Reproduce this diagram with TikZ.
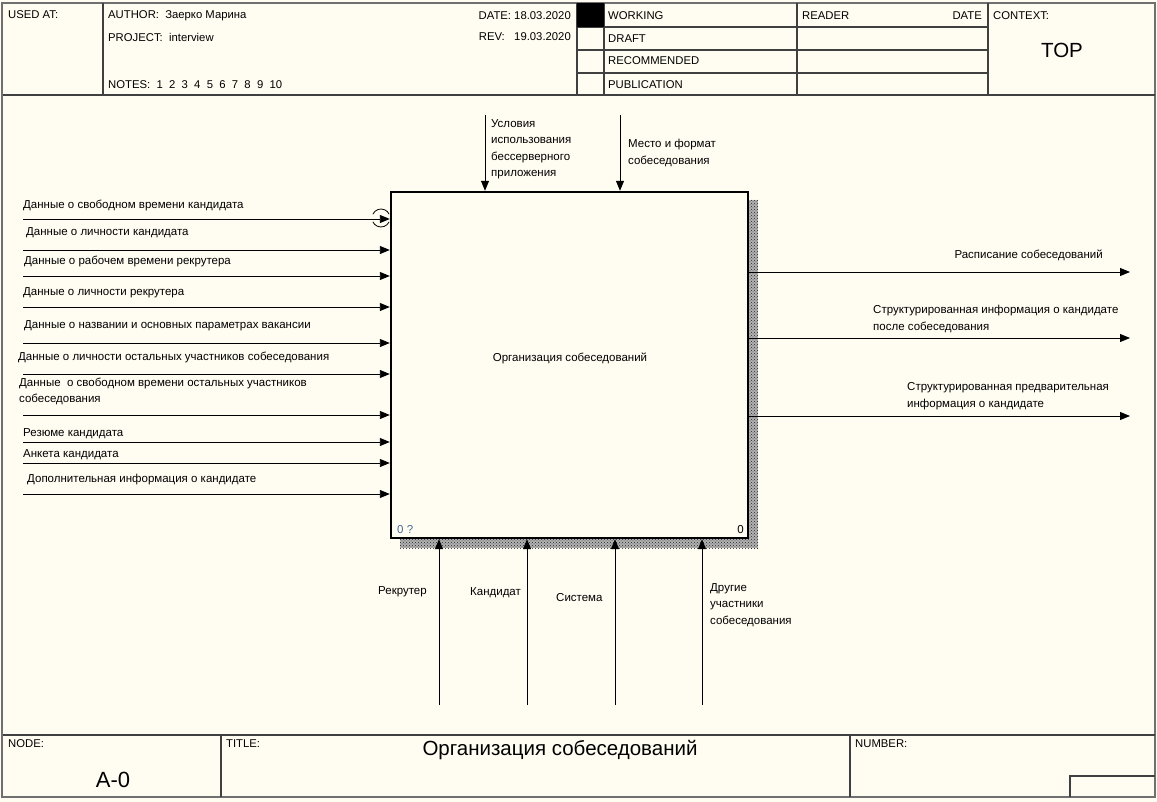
\documentclass[tikz,border=0pt]{standalone}
\usepackage{fontspec}
\setmainfont{Liberation Sans}
\usetikzlibrary{arrows.meta,patterns,positioning}
\definecolor{paper}{HTML}{FFFCF2}
\definecolor{rim}{HTML}{707070}
\definecolor{idnum}{HTML}{4A6A9A}
\tikzset{
  lbl/.style={font=\fontsize{11.5}{16.5}\selectfont, inner sep=0pt, anchor=west, align=left},
  hdr/.style={font=\fontsize{11.3}{13}\selectfont, inner sep=0pt, anchor=west},
  big/.style={font=\fontsize{20.5}{24}\selectfont, inner sep=0pt},
  grid/.style={black!75, line width=1.2pt},
  shade/.style={fill=black!30, postaction={pattern=crosshatch dots, pattern color=black!85}},
  flow/.style={line width=0.9pt, -{Triangle[length=10pt,width=8pt]}},
}
\begin{document}
\begin{tikzpicture}[x=1pt,y=-1pt]
\useasboundingbox (0,0) rectangle (1157,802);
\fill[paper] (0,0) rectangle (1157,802);
\draw[rim, line width=2pt] (2,3) rectangle (1155,797);
% header
\draw[grid] (3,95) -- (1155,95);
\foreach \x in {103,577,604,797,988} \draw[grid] (\x,3) -- (\x,95);
\foreach \y in {27,50,73} \draw[grid] (577,\y) -- (988,\y);
\fill (577,3) rectangle (604,27);
\node[hdr] (usedat)  at (8,15)   {USED AT:};
\node[hdr] (author)  at (108,16) {AUTHOR:\ \ Заерко Марина};
\node[hdr] (project) at (108,37) {PROJECT:\ \ interview};
\node[hdr] (notes)   at (108,85) {NOTES:\ \ 1\ \ 2\ \ 3\ \ 4\ \ 5\ \ 6\ \ 7\ \ 8\ \ 9\ \ 10};
\node[hdr, anchor=east] (date) at (571,16) {DATE:\ 18.03.2020};
\node[hdr, anchor=east] (rev)  at (571,37) {REV:\ \ \ 19.03.2020};
\node[hdr] (working) at (608,16) {WORKING};
\node[hdr] (draft)   at (608,39) {DRAFT};
\node[hdr] (recom)   at (608,61) {RECOMMENDED};
\node[hdr] (publ)    at (608,85) {PUBLICATION};
\node[hdr] (reader)  at (802,16) {READER};
\node[hdr, anchor=east] (rdate) at (982,16) {DATE};
\node[hdr] (context) at (993,16) {CONTEXT:};
\node[big] (top) at (1062,50) {TOP};
% activity box
\path[shade] (749,200) rectangle (758,548);
\path[shade] (400,539) rectangle (758,548);
\node[draw, fill=paper, line width=2.4pt, minimum width=357pt, minimum height=346pt, inner sep=0pt] (act) at (569.5,365) {};
\node[lbl, anchor=center] (actname) at (570,358) {Организация собеседований};
\node[lbl, text=idnum] (actid) at (397,530) {0 ?};
\node[lbl, anchor=east] (actno) at (744,530) {0};
% inputs
\foreach \y/\ly/\lx/\t [count=\i] in {
  219/205/23/{Данные о свободном времени кандидата},
  250/233/26/{Данные о личности кандидата},
  276/261/24/{Данные о рабочем времени рекрутера},
  307/293/23/{Данные о личности рекрутера},
  343/326/24/{Данные о названии и основных параметрах вакансии},
  374/357/18/{Данные о личности остальных участников собеседования},
  415/391.5/19/{Данные\ \ о свободном времени остальных участников\\собеседования},
  442/434/23/{Резюме кандидата},
  463/455/23/{Анкета кандидата},
  494/480/27/{Дополнительная информация о кандидате}}{
  \coordinate (in-\i) at (23,\y);
  \draw[flow] (in-\i) -- (in-\i -| act.west);
  \node[lbl] (inlbl-\i) at (\lx,\ly) {\t};
}
\draw[line width=0.8pt] (381,218) ++(25:9) arc[start angle=25, end angle=155, radius=9];
\draw[line width=0.8pt] (381,218) ++(205:9) arc[start angle=205, end angle=335, radius=9];
% controls
\coordinate (ctl-1) at (485,115);
\coordinate (ctl-2) at (620,115);
\draw[flow] (ctl-1) -- (ctl-1 |- act.north);
\draw[flow] (ctl-2) -- (ctl-2 |- act.north);
\node[lbl] (ctllbl-1) at (491,149) {Условия\\использования\\бессерверного\\приложения};
\node[lbl] (ctllbl-2) at (628,153) {Место и формат\\собеседования};
% outputs
\foreach \y [count=\i] in {272,338,416}{
  \coordinate (out-\i) at (1130,\y);
  \draw[flow] (out-\i -| act.east) -- (out-\i);
}
\node[lbl, anchor=east] (outlbl-1) at (1103,255) {Расписание собеседований};
\node[lbl] (outlbl-2) at (873,319) {Структурированная информация о кандидате\\после собеседования};
\node[lbl] (outlbl-3) at (907,396) {Структурированная предварительная\\информация о кандидате};
% mechanisms
\foreach \x [count=\i] in {439,527,615,702}{
  \coordinate (mech-\i) at (\x,705);
  \draw[flow] (mech-\i) -- (mech-\i |- act.south);
}
\node[lbl] (mechlbl-1) at (378,592) {Рекрутер};
\node[lbl] (mechlbl-2) at (470,593) {Кандидат};
\node[lbl] (mechlbl-3) at (556,598) {Система};
\node[lbl] (mechlbl-4) at (710,605) {Другие\\участники\\собеседования};
% footer
\draw[grid] (3,735) -- (1155,735);
\draw[grid] (221,735) -- (221,797);
\draw[grid] (850,735) -- (850,797);
\draw[grid] (1070,797) |- (1155,776);
\node[hdr] (nodehdr)  at (8,744)   {NODE:};
\node[hdr] (titlehdr) at (226,744) {TITLE:};
\node[hdr] (numhdr)   at (855,744) {NUMBER:};
\node[big] (title) at (560,750) {Организация собеседований};
\node[big, font=\fontsize{22}{26}\selectfont] (nodeno) at (113,780) {A-0};
\end{tikzpicture}
\end{document}
